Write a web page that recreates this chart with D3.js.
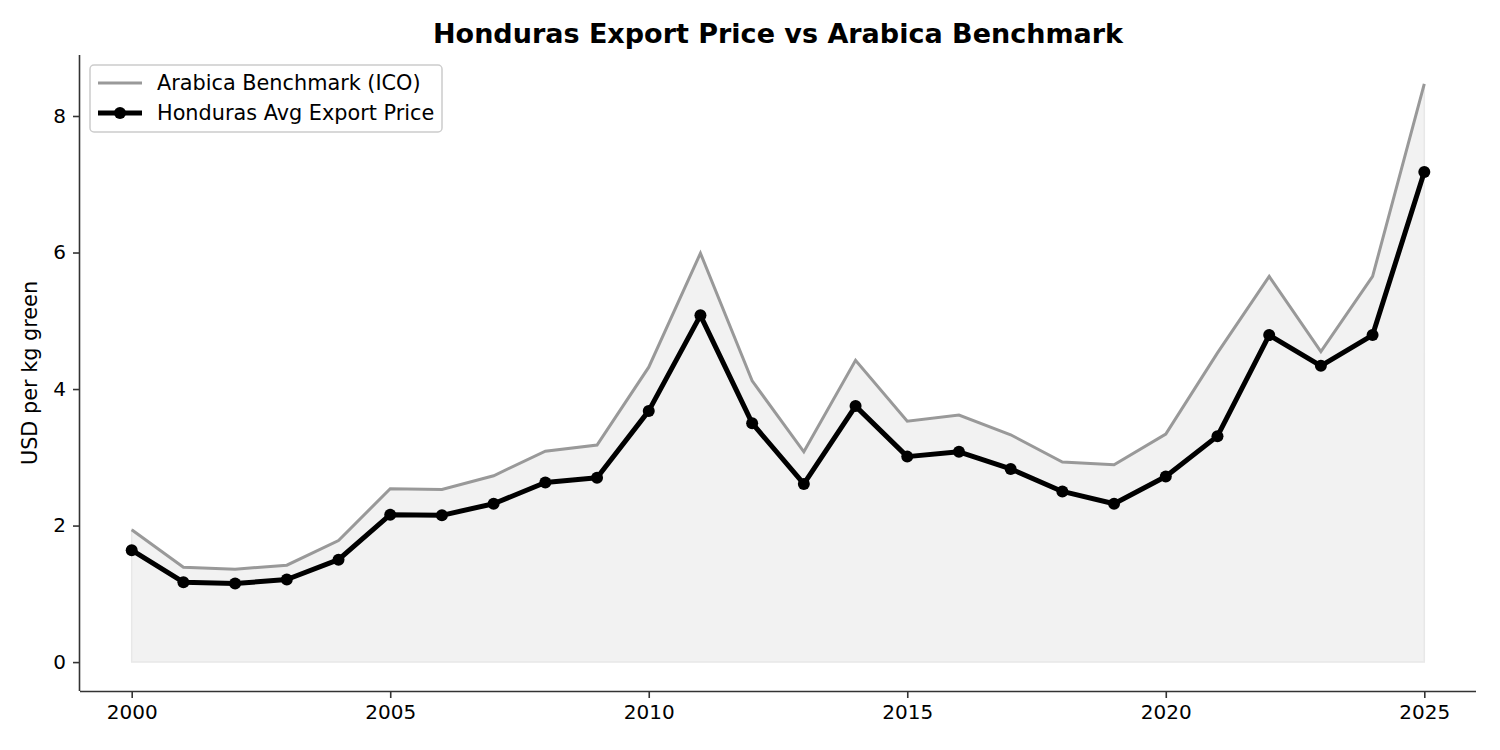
<!DOCTYPE html>
<html>
<head>
<meta charset="utf-8">
<script src="https://cdn.jsdelivr.net/npm/d3@7"></script>
<style>
  body { margin: 0; background: #fff; }
  svg { font-family: "DejaVu Sans", sans-serif; }
</style>
</head>
<body>
<svg width="1500" height="750"></svg>
<script>
"use strict";

var years = d3.range(2000, 2026);
var benchmark = [1.94, 1.39, 1.36, 1.42, 1.78, 2.54, 2.53, 2.73, 3.09, 3.18,
                 4.32, 5.99, 4.12, 3.08, 4.42, 3.53, 3.62, 3.33, 2.93, 2.89,
                 3.34, 4.53, 5.65, 4.55, 5.65, 8.47];
var honduras = [1.64, 1.17, 1.15, 1.21, 1.50, 2.16, 2.15, 2.32, 2.63, 2.70,
                3.68, 5.08, 3.50, 2.61, 3.75, 3.01, 3.08, 2.83, 2.50, 2.32,
                2.72, 3.31, 4.79, 4.34, 4.79, 7.18];
var xTicks = [2000, 2005, 2010, 2015, 2020, 2025];
var yTicks = [0, 2, 4, 6, 8];

var svg = d3.select("svg"),
    margin = {top: 55, right: 24, bottom: 59, left: 80},
    width = 1500 - margin.left - margin.right,
    height = 750 - margin.top - margin.bottom,
    g = svg.append("g").attr("transform", "translate(" + margin.left + "," + margin.top + ")");

var x = d3.scaleLinear().domain([1999, 2026]).range([0, width]),
    y = d3.scaleLinear().domain([-0.4235, 8.8935]).range([height, 0]);

var bench = years.map(function(d, i) { return {year: d, value: benchmark[i]}; });
var hond = years.map(function(d, i) { return {year: d, value: honduras[i]}; });

// shaded area under benchmark
var area = d3.area()
    .x(function(d) { return x(d.year); })
    .y0(y(0))
    .y1(function(d) { return y(d.value); });

g.append("path")
    .datum(bench)
    .attr("d", area)
    .style("fill", "#f2f2f2")
    .style("stroke", "#e8e8e8")
    .style("stroke-width", 1.5);

var line = d3.line()
    .x(function(d) { return x(d.year); })
    .y(function(d) { return y(d.value); });

g.append("path")
    .datum(bench)
    .attr("d", line)
    .style("fill", "none")
    .style("stroke", "#999")
    .style("stroke-width", 3);

g.append("path")
    .datum(hond)
    .attr("d", line)
    .style("fill", "none")
    .style("stroke", "#000")
    .style("stroke-width", 5)
    .style("stroke-linejoin", "round");

g.selectAll(".dot")
    .data(hond)
    .enter().append("circle")
      .attr("class", "dot")
      .attr("cx", function(d) { return x(d.year); })
      .attr("cy", function(d) { return y(d.value); })
      .attr("r", 6)
      .style("fill", "#000");

// axes
var xAxis = g.append("g")
    .attr("transform", "translate(0," + height + ")")
    .call(d3.axisBottom(x).tickValues(xTicks).tickFormat(d3.format("d")).tickSize(7).tickPadding(7));
xAxis.select(".domain").attr("d", "M0,0.5H" + width);

var yAxis = g.append("g")
    .call(d3.axisLeft(y).tickValues(yTicks).tickFormat(d3.format("d")).tickSize(7).tickPadding(7));
yAxis.select(".domain").attr("d", "M-0.5,0V" + height);

[xAxis, yAxis].forEach(function(ax) {
  ax.attr("font-size", 20).attr("font-family", "DejaVu Sans, sans-serif");
  ax.selectAll("line, path").style("stroke", "#333").style("stroke-width", 1.6);
  ax.selectAll("text").style("fill", "#000");
});

// titles
svg.append("text")
    .attr("x", margin.left + width / 2)
    .attr("y", 43)
    .attr("text-anchor", "middle")
    .style("font-size", "27px")
    .style("font-weight", "bold")
    .text("Honduras Export Price vs Arabica Benchmark");

svg.append("text")
    .attr("transform", "translate(30," + (margin.top + height / 2) + ") rotate(-90)")
    .attr("text-anchor", "middle")
    .attr("dy", "0.35em")
    .style("font-size", "20.8px")
    .text("USD per kg green");

// legend
var legend = svg.append("g").attr("transform", "translate(90,65)");
legend.append("rect")
    .attr("width", 352).attr("height", 67).attr("rx", 4)
    .style("fill", "#fff").style("fill-opacity", 0.8)
    .style("stroke", "#ccc").style("stroke-width", 1.5);

var items = [
  {label: "Arabica Benchmark (ICO)", color: "#999", w: 3, dot: false},
  {label: "Honduras Avg Export Price", color: "#000", w: 5, dot: true}
];
var li = legend.selectAll(".li").data(items).enter().append("g")
    .attr("transform", function(d, i) { return "translate(0," + (18 + i * 30) + ")"; });
li.append("line")
    .attr("x1", 8).attr("x2", 52)
    .style("stroke", function(d) { return d.color; })
    .style("stroke-width", function(d) { return d.w; });
li.filter(function(d) { return d.dot; }).append("circle")
    .attr("cx", 30).attr("r", 6).style("fill", "#000");
li.append("text")
    .attr("x", 67).attr("dy", "0.35em")
    .style("font-size", "20.8px")
    .text(function(d) { return d.label; });
</script>
</body>
</html>
